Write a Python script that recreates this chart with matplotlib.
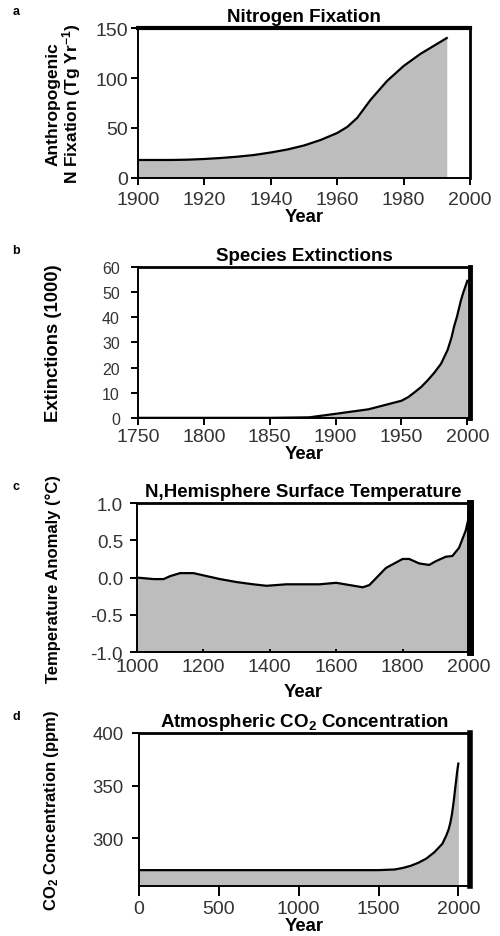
import matplotlib.pyplot as plt

plt.rcParams['font.family'] = ['Liberation Sans', 'DejaVu Sans']
plt.rcParams['mathtext.fontset'] = 'custom'
plt.rcParams['mathtext.rm'] = 'Liberation Sans:bold'
plt.rcParams['mathtext.bf'] = 'Liberation Sans:bold'
plt.rcParams['mathtext.default'] = 'bf'

# a: anthropogenic N fixation (Tg/yr)
n_years = [1900, 1905, 1910, 1915, 1920, 1925, 1930, 1935, 1940, 1945, 1950, 1955, 1960,
           1963, 1966, 1970, 1975, 1980, 1985, 1990, 1993]
n_fix = [18, 18, 18, 18.3, 19, 20, 21.3, 23, 25.5, 28.5, 32.5, 38, 45, 51, 60, 78, 97,
         112, 124, 134, 140]

# b: species extinctions (thousands)
ext_years = [1750, 1800, 1850, 1880, 1900, 1925, 1950, 1955, 1960, 1965, 1970, 1975, 1980,
             1985, 1988, 1990, 1992, 1995, 1997, 2000]
ext_vals = [0, 0, 0, 0.2, 1.6, 3.4, 6.8, 8.2, 10.2, 12.3, 15, 18, 21.5, 27, 32, 36.5, 40,
            46.5, 50, 54.5]

# c: N hemisphere surface temperature anomaly (C)
t_years = [1000, 1050, 1080, 1100, 1130, 1170, 1200, 1250, 1300, 1350, 1390, 1450, 1500,
           1550, 1600, 1640, 1680, 1700, 1750, 1800, 1820, 1850, 1880, 1900, 1930, 1950,
           1970, 1990, 2000]
t_vals = [0.0, -0.02, -0.02, 0.02, 0.06, 0.06, 0.03, -0.02, -0.06, -0.09, -0.11, -0.09, -0.09,
          -0.09, -0.07, -0.1, -0.13, -0.1, 0.13, 0.25, 0.25, 0.19, 0.17, 0.22, 0.28, 0.29,
          0.4, 0.63, 0.82]

# d: atmospheric CO2 (ppm)
co2_years = [0, 500, 1000, 1500, 1600, 1650, 1700, 1750, 1800, 1850, 1900, 1925, 1940, 1950,
             1960, 1970, 1980, 1990, 1995, 2000]
co2_vals = [270, 270, 270, 270, 270.6, 272, 274, 277, 281, 287, 295, 303, 309, 315, 323,
            334, 347, 360, 366, 371]

fig = plt.figure(figsize=(5, 9.37), dpi=100)

fill_col = '#bdbdbd'
tick_col = '#333333'


def panel(rect, x, y, base, xlim, ylim, xticks, yticks, title, ylabel, letter, lab_x,
          lab_size, ylabels=None, ytick_size=14, ypad=2, xpad=2, xlen=5, xlabelpad=0,
          xtick_dir='out', right_lw=2.5, top_lw=2.5):
    ax = fig.add_axes(rect)
    ax.fill_between(x, y, base, color=fill_col, lw=0)
    ax.plot(x, y, color='black', lw=1.6)
    ax.set_xlim(*xlim)
    ax.set_ylim(*ylim)
    ax.set_xticks(xticks)
    ax.set_yticks(yticks)
    if ylabels is not None:
        ax.set_yticklabels(ylabels)
    ax.tick_params(axis='x', direction=xtick_dir, length=xlen, width=1.4, labelsize=14,
                   labelcolor=tick_col, pad=xpad)
    ax.tick_params(axis='y', direction='out', length=5, width=1.4, labelsize=ytick_size,
                   labelcolor=tick_col, pad=ypad)
    for s in ['left', 'bottom']:
        ax.spines[s].set_linewidth(1.4)
    ax.spines['top'].set_linewidth(top_lw)
    ax.spines['right'].set_linewidth(right_lw)
    ax.set_title(title, fontsize=13.5, fontweight='bold', pad=5)
    ax.set_xlabel('Year', fontsize=13.3, fontweight='bold', labelpad=xlabelpad)
    ax.set_ylabel(ylabel, fontsize=lab_size, fontweight='bold', linespacing=1.0)
    ax.yaxis.set_label_coords(lab_x, 0.5)
    fig.text(0.025, rect[1] + rect[3] + 0.018, letter, fontsize=9, fontweight='bold',
             va='center', ha='left')
    return ax


panel([0.276, 0.809, 0.664, 0.160], n_years, n_fix, 0, (1900, 2000), (0, 150),
      [1900, 1920, 1940, 1960, 1980, 2000], [0, 50, 100, 150],
      'Nitrogen Fixation', 'Anthropogenic\nN Fixation (Tg Yr$^{-1}$)', 'a', -0.165, 12.5,
      xpad=4.5, xlabelpad=0, top_lw=3.0, right_lw=2.0)

panel([0.276, 0.553, 0.664, 0.161], ext_years, ext_vals, 0, (1750, 2002), (0, 60),
      [1750, 1800, 1850, 1900, 1950, 2000], [0, 10, 20, 30, 40, 50, 60],
      'Species Extinctions', 'Extinctions (1000)', 'b', -0.229, 13.3,
      ytick_size=11.5, ypad=8, xpad=2, top_lw=2.0, right_lw=3.5)

panel([0.274, 0.303, 0.666, 0.159], t_years, t_vals, -1.0, (1000, 2003), (-1.0, 1.0),
      [1000, 1200, 1400, 1600, 1800, 2000], [-1.0, -0.5, 0.0, 0.5, 1.0],
      'N,Hemisphere Surface Temperature', 'Temperature Anomaly (\u00b0C)', 'c', -0.228, 12,
      ylabels=['-1.0', '-0.5', '0.0', '0.5', '1.0'], ytick_size=13.5, ypad=5,
      xtick_dir='in', xlen=2, xpad=4, xlabelpad=6, top_lw=2.0, right_lw=5.0)

panel([0.278, 0.0534, 0.662, 0.1633], co2_years, co2_vals, 255, (0, 2073), (255, 400),
      [0, 500, 1000, 1500, 2000], [300, 350, 400],
      'Atmospheric CO$_2$ Concentration', 'CO$_2$ Concentration (ppm)', 'd', -0.236, 12,
      ytick_size=13.4, ypad=6, xlen=7, xpad=3, xlabelpad=0, top_lw=2.0, right_lw=4.0)

fig.savefig('out.png', dpi=100)
